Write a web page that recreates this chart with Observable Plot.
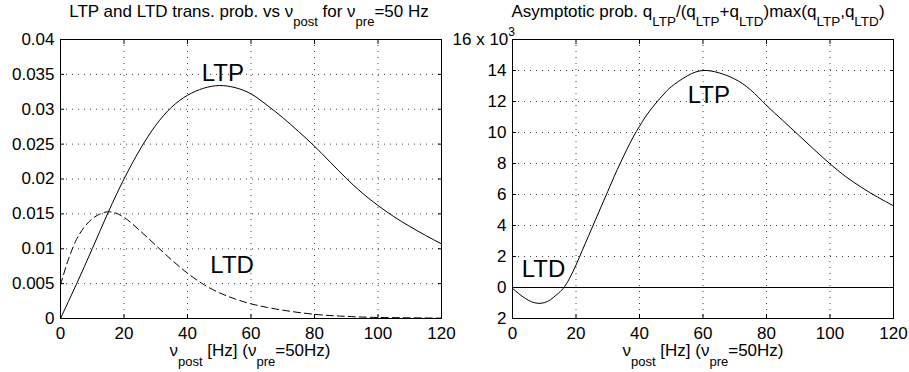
<!DOCTYPE html>
<html><head><meta charset="utf-8">
<script src="https://cdn.jsdelivr.net/npm/d3@7"></script>
<script src="https://cdn.jsdelivr.net/npm/@observablehq/plot@0.6"></script>
<style>
body{margin:0;background:#fff;}
#wrap{position:relative;width:909px;height:372px;}
#wrap svg{position:absolute;top:0;overflow:visible;}
</style></head><body><div id="wrap"></div>
<script>
// ---- data ----
const xTicks = [0, 20, 40, 60, 80, 100, 120];
const leftYTicks = [0, 0.005, 0.01, 0.015, 0.02, 0.025, 0.03, 0.035, 0.04];
const rightYTicks = [-2, 0, 2, 4, 6, 8, 10, 12, 14, 16];

const ltpX = [0, 5, 10, 15, 20, 25, 30, 35, 40, 45, 50, 55, 60, 65, 70, 75, 80, 85, 90, 95, 100, 105, 110, 115, 120];
const ltpY = [0, 0.0049, 0.0100, 0.0152, 0.0200, 0.0242, 0.0277, 0.0303, 0.0320, 0.0330, 0.0334, 0.0331, 0.0322, 0.0306, 0.0288, 0.0268, 0.0247, 0.0224, 0.0201, 0.0180, 0.0162, 0.0146, 0.0132, 0.0119, 0.0107];

const ltdX = [0, 2.5, 5, 7.5, 10, 12.5, 15, 17.5, 20, 25, 30, 35, 40, 45, 50, 55, 60, 65, 70, 80, 90, 100, 110, 120];
const ltdY = [0.0048, 0.0085, 0.0113, 0.0131, 0.0143, 0.0150, 0.0153, 0.0151, 0.0145, 0.0126, 0.0105, 0.0084, 0.0065, 0.0049, 0.0037, 0.0028, 0.0021, 0.0016, 0.0012, 0.0006, 0.0003, 0.00015, 0.0001, 0.00005];

const asymX = [0, 2, 4, 6, 8, 10, 12, 14, 16, 18, 20, 22, 24, 26, 28, 30, 32, 34, 36, 38, 40, 42, 44, 46, 48, 50, 55, 60, 65, 70, 75, 80, 85, 90, 95, 100, 105, 110, 115, 120];
const asymY = [-0.05, -0.4, -0.7, -0.92, -1.02, -0.98, -0.78, -0.45, -0.05, 0.6, 1.45, 2.4, 3.35, 4.3, 5.25, 6.2, 7.15, 8.05, 8.9, 9.7, 10.4, 11.05, 11.6, 12.1, 12.55, 12.95, 13.65, 14.0, 13.85, 13.45, 12.75, 11.75, 10.8, 9.85, 8.9, 7.98, 7.15, 6.45, 5.83, 5.27];

const FONT = '"Liberation Sans", Arial, Helvetica, sans-serif';
const toRows = (xs, ys) => xs.map((x, i) => ({x, y: ys[i]}));

function panel({width, marginLeft, marginRight, yDomain, yTicks, yFmt, marks}) {
  return Plot.plot({
    width, height: 372, marginTop: 39, marginBottom: 54, marginLeft, marginRight,
    style: {fontFamily: FONT, fontSize: "17px", color: "#000", background: "transparent", overflow: "visible"},
    x: {domain: [0, 120]},
    y: {domain: yDomain},
    marks: [
      Plot.gridX(xTicks, {stroke: "#000", strokeOpacity: 0.75, strokeDasharray: "1,5"}),
      Plot.gridY(yTicks, {stroke: "#000", strokeOpacity: 0.75, strokeDasharray: "1,5"}),
      ...marks,
      Plot.frame({stroke: "#000", strokeWidth: 1}),
      Plot.axisX(xTicks, {anchor: "bottom", tickSize: -4, tickPadding: 12, label: null, tickFormat: d => String(d)}),
      Plot.axisX(xTicks, {anchor: "top", tickSize: -4, label: null, tickFormat: () => ""}),
      Plot.axisY(yTicks, {anchor: "left", tickSize: -4, tickPadding: 10, label: null, tickFormat: yFmt}),
      Plot.axisY(yTicks, {anchor: "right", tickSize: -4, label: null, tickFormat: () => ""})
    ]
  });
}

const left = panel({
  width: 455, marginLeft: 60, marginRight: 14,
  yDomain: [0, 0.04], yTicks: leftYTicks, yFmt: d => String(d),
  marks: [
    Plot.line(toRows(ltpX, ltpY), {x: "x", y: "y", stroke: "#000", strokeWidth: 1, curve: "natural"}),
    Plot.line(toRows(ltdX, ltdY), {x: "x", y: "y", stroke: "#000", strokeWidth: 1, strokeDasharray: "7,4", curve: "monotone-x"}),
    Plot.text([{x: 44.5, y: 0.0341, t: "LTP"}, {x: 47.2, y: 0.00647, t: "LTD"}],
      {x: "x", y: "y", text: "t", textAnchor: "start", lineAnchor: "bottom", fontSize: 24, fill: "#000"})
  ]
});

const right = panel({
  width: 454, marginLeft: 57, marginRight: 16,
  yDomain: [-2, 16], yTicks: rightYTicks, yFmt: d => d === 16 ? "" : String(Math.abs(d)),
  marks: [
    Plot.ruleY([0], {stroke: "#000", strokeWidth: 1}),
    Plot.line(toRows(asymX, asymY), {x: "x", y: "y", stroke: "#000", strokeWidth: 1, curve: "natural"}),
    Plot.text([{x: 55.2, y: 11.9, t: "LTP"}, {x: 2.9, y: 0.68, t: "LTD"}],
      {x: "x", y: "y", text: "t", textAnchor: "start", lineAnchor: "bottom", fontSize: 24, fill: "#000"})
  ]
});

const wrap = document.getElementById("wrap");
left.style.left = "0px";
right.style.left = "455px";
wrap.appendChild(left);
wrap.appendChild(right);

// rich text helper: parts = [[text, "n"|"sub"|"sup"], ...]
function rich(svg, x, y, parts, size, subSize, subDy) {
  const t = d3.select(svg).append("text")
    .attr("x", x).attr("y", y).attr("text-anchor", "middle")
    .attr("font-family", FONT).attr("font-size", size).attr("fill", "#000");
  let cur = 0;
  for (const [s, kind] of parts) {
    const target = kind === "sub" ? subDy : kind === "sup" ? -subDy : 0;
    t.append("tspan").attr("dy", target - cur)
      .attr("font-size", kind === "n" ? size : subSize).text(s);
    cur = target;
  }
  return t;
}

rich(left, 249, 17, [["LTP and LTD trans. prob. vs \u03BD", "n"], ["post", "sub"], [" for \u03BD", "n"], ["pre", "sub"], ["=50 Hz", "n"]], 17, 13, 9);
rich(left, 250, 356, [["\u03BD", "n"], ["post", "sub"], [" [Hz] (\u03BD", "n"], ["pre", "sub"], ["=50Hz)", "n"]], 17, 13, 10);

rich(right, 243, 17, [["Asymptotic prob. q", "n"], ["LTP", "sub"], ["/(q", "n"], ["LTP", "sub"], ["+q", "n"], ["LTD", "sub"], [")max(q", "n"], ["LTP", "sub"], [",q", "n"], ["LTD", "sub"], [")", "n"]], 17, 13.5, 9);
rich(right, 248, 356, [["\u03BD", "n"], ["post", "sub"], [" [Hz] (\u03BD", "n"], ["pre", "sub"], ["=50Hz)", "n"]], 17, 13, 10);

// "16 x 10^3" exponent label at the top of the right y axis
const ex = d3.select(right).append("text")
  .attr("x", 60).attr("y", 45).attr("text-anchor", "end")
  .attr("font-family", FONT).attr("font-size", 17).attr("fill", "#000");
ex.append("tspan").text("16 x 10");
ex.append("tspan").attr("dy", -9).attr("font-size", 12).text("3");
</script></body></html>
